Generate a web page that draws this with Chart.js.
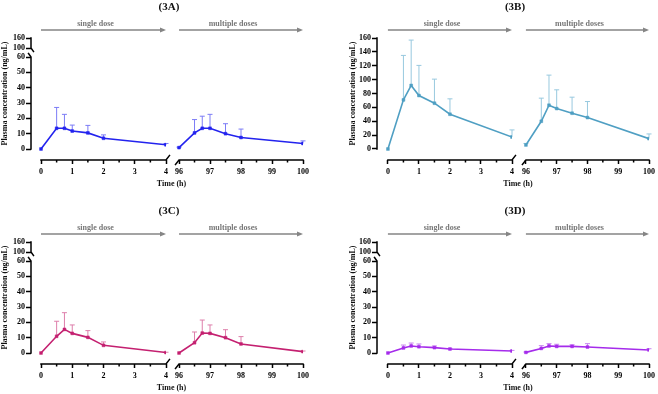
<!DOCTYPE html>
<html><head><meta charset="utf-8">
<script src="https://cdn.jsdelivr.net/npm/chart.js@4.4.1/dist/chart.umd.min.js"></script>
<style>
html,body{margin:0;padding:0;background:#fff;}
body{width:658px;height:394px;position:relative;overflow:hidden;}
.p{position:absolute;width:329px;height:190px;}
canvas{display:block;}
</style></head><body>
<div class="p" style="left:0;top:0"><canvas id="cA" width="329" height="190"></canvas></div>
<div class="p" style="left:329px;top:0"><canvas id="cB" width="329" height="190"></canvas></div>
<div class="p" style="left:0;top:204px"><canvas id="cC" width="329" height="190"></canvas></div>
<div class="p" style="left:329px;top:204px"><canvas id="cD" width="329" height="190"></canvas></div>
<script>
// ---- data ----
const timesSingle = [0, 0.5, 0.75, 1, 1.5, 2, 4];
const timesMultiple = [96, 96.5, 96.75, 97, 97.5, 98, 100];
const xTicksSingle = [0, 1, 2, 3, 4];
const xTicksMultiple = [96, 97, 98, 99, 100];
const xMinorSingle = [0.5, 1.5, 2.5, 3.5];
const xMinorMultiple = [96.5, 97.5, 98.5, 99.5];
const yTicksLower = [0, 10, 20, 30, 40, 50, 60];
const yTicksUpper = [100, 160];
const yTicksFull = [0, 20, 40, 60, 80, 100, 120, 140, 160];
const panelTitles = ['(3A)', '(3B)', '(3C)', '(3D)'];
const phaseLabels = ['single dose', 'multiple doses'];
const xTitle = 'Time (h)';
const yTitle = 'Plasma concentration (ng/mL)';

const meanA1 = [0, 13.5, 13.5, 11.7, 10.5, 7.0, 2.8];
const sdA1   = [0, 13.6, 9.1, 3.9, 4.9, 2.2, 0.8];
const meanA2 = [0.9, 10.5, 13.5, 13.5, 10.0, 7.5, 3.6];
const sdA2   = [0.3, 8.7, 7.9, 9.1, 6.5, 5.5, 1.7];
const meanB1 = [0, 70.8, 91.6, 77.1, 66.0, 50.1, 17.3];
const sdB1   = [0, 64.1, 65.4, 43.4, 34.7, 22.2, 10.2];
const meanB2 = [5.8, 40.0, 63.1, 58.3, 51.6, 45.3, 14.9];
const sdB2   = [2.2, 33.3, 43.4, 27.0, 23.1, 23.1, 6.8];
const meanC1 = [0, 10.9, 15.4, 12.8, 10.2, 5.0, 0.3];
const sdC1   = [0, 9.8, 10.9, 5.5, 4.4, 2.2, 0.2];
const meanC2 = [0, 6.7, 13.0, 12.8, 10.0, 5.9, 0.9];
const sdC2   = [0, 7.0, 8.5, 5.5, 5.2, 4.8, 0.4];
const meanD1 = [0, 3.3, 4.6, 4.1, 3.5, 2.6, 1.3];
const sdD1   = [0, 1.9, 1.9, 1.8, 1.1, 0.4, 0.4];
const meanD2 = [0.4, 3.0, 4.6, 4.3, 4.3, 3.9, 2.0];
const sdD2   = [0.2, 1.8, 1.5, 1.4, 1.1, 2.2, 0.8];

// ---- drawing ----
const SERIF = '"Liberation Serif", "Times New Roman", serif';
const tickFont = {family: SERIF, size: 8, weight: 'bold'};

const panelPlugin = {
  id: 'panel',
  beforeDatasetsDraw(chart) {
    const ctx = chart.ctx, y = chart.scales.y;
    ctx.save();
    ctx.lineWidth = 1;
    chart.data.datasets.forEach((ds, di) => {
      const meta = chart.getDatasetMeta(di);
      ctx.strokeStyle = ds.errColor;
      meta.data.forEach((pt, i) => {
        const m = ds.data[i].y, s = ds.sd[i];
        if (!(s > 0)) return;
        const py0 = y.getPixelForValue(m), py1 = y.getPixelForValue(m + s);
        ctx.beginPath();
        ctx.moveTo(pt.x, py0); ctx.lineTo(pt.x, py1);
        ctx.moveTo(pt.x - 2.5, py1); ctx.lineTo(pt.x + 2.5, py1);
        ctx.stroke();
      });
    });
    ctx.restore();
  },
  afterDraw(chart) {
    const o = chart.options.plugins.panel;
    const ctx = chart.ctx, y = chart.scales.y, x1 = chart.scales.x1, x2 = chart.scales.x2;
    const ax = chart.chartArea.left, ay = chart.chartArea.bottom;
    ctx.save();
    ctx.strokeStyle = '#000'; ctx.lineWidth = 1.5; ctx.lineCap = 'square'; ctx.lineJoin = 'miter';
    const y0 = y.getPixelForValue(0);
    let yTop;
    if (o.broken) {
      const yu = chart.scales.yu;
      yTop = yu.getPixelForValue(160);
      const p100 = yu.getPixelForValue(100), p60 = y.getPixelForValue(60);
      ctx.beginPath(); ctx.moveTo(ax, yTop); ctx.lineTo(ax, p100); ctx.lineTo(ax + 2.5, p100 + 3.5); ctx.stroke();
      ctx.beginPath(); ctx.moveTo(ax - 2.5, p60 - 3.5); ctx.lineTo(ax, p60); ctx.lineTo(ax, y0); ctx.stroke();
    } else {
      yTop = y.getPixelForValue(160);
      ctx.beginPath(); ctx.moveTo(ax, yTop); ctx.lineTo(ax, y0); ctx.stroke();
    }
    const a0 = x1.getPixelForValue(0), a4 = x1.getPixelForValue(4);
    const b96 = x2.getPixelForValue(96), b100 = x2.getPixelForValue(100);
    ctx.beginPath(); ctx.moveTo(a0, ay); ctx.lineTo(a4, ay); ctx.lineTo(a4 + 3.5, ay - 4.5); ctx.stroke();
    ctx.beginPath(); ctx.moveTo(b96 - 3.5, ay + 4.5); ctx.lineTo(b96, ay); ctx.lineTo(b100, ay); ctx.stroke();
    ctx.lineCap = 'butt';
    ctx.beginPath();
    xMinorSingle.forEach(t => { const px = x1.getPixelForValue(t); ctx.moveTo(px, ay); ctx.lineTo(px, ay + 2.5); });
    xMinorMultiple.forEach(t => { const px = x2.getPixelForValue(t); ctx.moveTo(px, ay); ctx.lineTo(px, ay + 2.5); });
    ctx.stroke();

    // titles
    const gapC = (a4 + b96) / 2;
    ctx.fillStyle = '#111'; ctx.textAlign = 'center'; ctx.textBaseline = 'middle';
    ctx.font = 'bold 11px ' + SERIF;
    ctx.fillText(o.title, (ax + b100) / 2 + 2, 7);
    ctx.font = 'bold 8px ' + SERIF;
    ctx.fillText(xTitle, gapC - 1, 184);
    ctx.save();
    ctx.translate(o.yTitleX, (yTop + y0) / 2);
    ctx.rotate(-Math.PI / 2);
    ctx.fillText(yTitle, 0, 0);
    ctx.restore();

    // arrows
    const arrowY = 30;
    const drawArrow = (xs, xe, label) => {
      ctx.strokeStyle = '#858585'; ctx.fillStyle = '#858585'; ctx.lineWidth = 1.5;
      ctx.beginPath(); ctx.moveTo(xs, arrowY); ctx.lineTo(xe - 4, arrowY); ctx.stroke();
      ctx.beginPath(); ctx.moveTo(xe, arrowY); ctx.lineTo(xe - 6, arrowY - 2.6); ctx.lineTo(xe - 6, arrowY + 2.6); ctx.closePath(); ctx.fill();
      ctx.fillStyle = '#777';
      ctx.font = 'bold 8px ' + SERIF;
      ctx.fillText(label, (xs + xe) / 2 - 8, 24);
    };
    drawArrow(a0, a4, phaseLabels[0]);
    drawArrow(b96, b100, phaseLabels[1]);
    ctx.restore();
  }
};

const LEFT_GEOM  = {axisW: 31, x1min: -0.32,  x2min: 95.58,  w1: 135, w2: 137, padRight: 26, yTitleX: 5};
const RIGHT_GEOM = {axisW: 48, x1min: -0.352, x2min: 95.548, w1: 136, w2: 138, padRight: 7,  yTitleX: 24};

function makePanel(id, title, color, errColor, m1, s1, m2, s2, broken, g) {
  const gridOpts = (len) => ({display: true, drawOnChartArea: false, drawTicks: true, tickLength: len, tickColor: '#000', tickWidth: 1.5});
  const yBase = (min, max, ticks) => ({
    type: 'linear', position: 'left', min, max,
    afterBuildTicks: s => { s.ticks = ticks.map(v => ({value: v})); },
    afterFit: s => { s.width = g.axisW; },
    border: {display: false},
    grid: gridOpts(5),
    ticks: {font: tickFont, color: '#000', padding: 1, autoSkip: false}
  });
  const xBase = (min, max, ticks, w, order) => ({
    type: 'linear', position: 'bottom', min, max, stack: 'xs', stackWeight: w, weight: order,
    afterBuildTicks: s => { s.ticks = ticks.map(v => ({value: v})); },
    afterFit: s => { s.height = 30; },
    border: {display: false},
    grid: gridOpts(4),
    ticks: {font: tickFont, color: '#000', padding: 3, autoSkip: false, maxRotation: 0}
  });
  const scales = {
    x1: xBase(g.x1min, 4, xTicksSingle, g.w1, 0),
    x2: xBase(g.x2min, 100, xTicksMultiple, g.w2, 1)
  };
  if (broken) {
    scales.y = Object.assign(yBase(-7.17, 60, yTicksLower), {stack: 'ys', stackWeight: 103, weight: 0});
    scales.yu = Object.assign(yBase(46, 160, yTicksUpper), {stack: 'ys', stackWeight: 19, weight: 1});
  } else {
    scales.y = yBase(-15.86, 160, yTicksFull);
  }
  const ds = (times, m, s, xid, label) => ({
    label, data: times.map((t, i) => ({x: t, y: m[i]})), sd: s, errColor,
    xAxisID: xid, yAxisID: 'y',
    borderColor: color, backgroundColor: color, borderWidth: 1.6,
    pointRadius: 2, pointStyle: 'rect', pointBorderWidth: 0.5, tension: 0
  });
  return new Chart(document.getElementById(id), {
    type: 'line',
    data: {datasets: [ds(timesSingle, m1, s1, 'x1', phaseLabels[0]), ds(timesMultiple, m2, s2, 'x2', phaseLabels[1])]},
    options: {
      responsive: false, animation: false, devicePixelRatio: 1,
      layout: {padding: {left: 0, top: 38, right: g.padRight, bottom: 0}},
      scales,
      plugins: {legend: {display: false}, tooltip: {enabled: false}, title: {display: false},
        panel: {title, broken, yTitleX: g.yTitleX}}
    },
    plugins: [panelPlugin]
  });
}

makePanel('cA', panelTitles[0], '#2323ee', '#7c7cf6', meanA1, sdA1, meanA2, sdA2, true, LEFT_GEOM);
makePanel('cB', panelTitles[1], '#4f9fc3', '#98c9df', meanB1, sdB1, meanB2, sdB2, false, RIGHT_GEOM);
makePanel('cC', panelTitles[2], '#c42070', '#de7fab', meanC1, sdC1, meanC2, sdC2, true, LEFT_GEOM);
makePanel('cD', panelTitles[3], '#a52ceb', '#c985f1', meanD1, sdD1, meanD2, sdD2, true, RIGHT_GEOM);
</script>
</body></html>
